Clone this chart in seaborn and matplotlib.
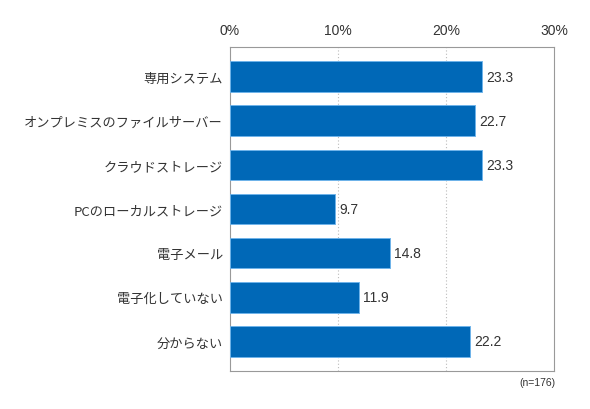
import matplotlib
matplotlib.use('Agg')
import matplotlib.pyplot as plt
import seaborn as sns
import pandas as pd

# ── Data ─────────────────────────────────────────────
categories = ['専用システム', 'オンプレミスのファイルサーバー', 'クラウドストレージ',
              'PCのローカルストレージ', '電子メール', '電子化していない', '分からない']
values = [23.3, 22.7, 23.3, 9.7, 14.8, 11.9, 22.2]
xticks = [0, 10, 20, 30]
xtick_labels = ['0%', '10%', '20%', '30%']

df = pd.DataFrame({'cat': categories, 'val': values})

sns.set_style('white')
plt.rcParams['font.family'] = ['Noto Sans CJK JP', 'DejaVu Sans']
num_font = ['Liberation Sans', 'DejaVu Sans']

fig = plt.figure(figsize=(5.9, 4.1), dpi=100)
ax = fig.add_axes([230 / 590, 1 - 372 / 410, 324 / 590, 324 / 410])

sns.barplot(data=df, x='val', y='cat', color='#0068b7', saturation=1,
            width=0.69, edgecolor='#6fb4ea', linewidth=0.7, ax=ax, zorder=3)

ax.set_xlim(0, 30)
ax.set_ylim(6.67, -0.67)
ax.set_xticks(xticks)
ax.set_xticklabels(xtick_labels, fontsize=10, color='#333333', family=num_font)
ax.xaxis.tick_top()
ax.tick_params(axis='x', length=0, pad=7)
ax.tick_params(axis='y', length=0, pad=5, labelsize=9.5, labelcolor='#333333')
ax.set_xlabel('')
ax.set_ylabel('')

for x in [10, 20]:
    ax.axvline(x, color='#bbbbbb', linestyle=(0, (1, 2)), linewidth=0.8, zorder=1)

for s in ax.spines.values():
    s.set_color('#999999')
    s.set_linewidth(0.8)

for i, v in enumerate(values):
    ax.text(v + 0.4, i, f'{v:.1f}', va='center', ha='left', fontsize=10,
            color='#333333', family=num_font)

fig.text(556 / 590, 1 - 383 / 410, '(n=176)', ha='right', va='center',
         fontsize=7.5, color='#333333', family=num_font)

plt.savefig('out.png', dpi=100)
